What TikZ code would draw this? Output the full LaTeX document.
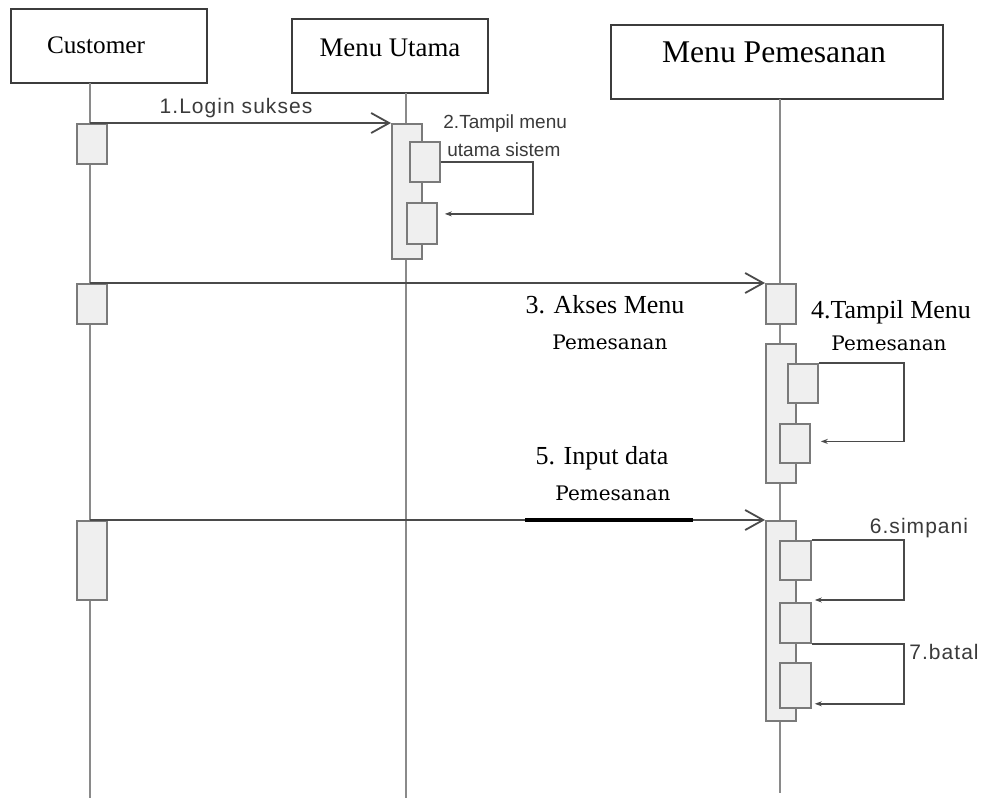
\documentclass[tikz,border=0pt]{standalone}
\usepackage{fontspec}
\setmainfont{Liberation Serif}
\newfontfamily\msgsans{Liberation Sans}
\newfontfamily\widesans[LetterSpace=5]{Liberation Sans}
\newfontfamily\thinserif{DejaVu Serif}
\usetikzlibrary{arrows.meta,positioning}
\definecolor{boxline}{HTML}{3C3C3C}
\definecolor{lifeline}{HTML}{8A8A8A}
\definecolor{actline}{HTML}{7A7A7A}
\definecolor{actfill}{HTML}{EFEFEF}
\definecolor{msgline}{HTML}{4A4A4A}
\definecolor{msgtext}{HTML}{3A3A3A}
\tikzset {
  >=Stealth,
  objbox/.style={draw=boxline,line width=1.3pt,fill=white,inner sep=0pt},
  life/.style={draw=lifeline,line width=0.9pt},
  act/.style={draw=actline,line width=0.9pt,fill=actfill,anchor=north west,inner sep=0pt},
  msg/.style={draw=msgline,line width=1pt,-{Straight Barb[length=9pt,width=10pt,line width=0.9pt]}},
  selfmsg/.style={draw=msgline,line width=0.9pt,-{Stealth[length=3.5pt,width=2.5pt]}},
  sanslabel/.style={text=msgtext,font=\msgsans\fontsize{9.5}{11}\selectfont,inner sep=0pt},
  widelabel/.style={text=msgtext,font=\widesans\fontsize{10.5}{12}\selectfont,inner sep=0pt},
  seriflabel/.style={font=\fontsize{13}{15}\selectfont,inner sep=0pt},
  thinlabel/.style={font=\thinserif\fontsize{10}{12}\selectfont,inner sep=0pt},
}

\begin{document}
\begin{tikzpicture}[x=0.5pt,y=-0.5pt]
  \useasboundingbox (0,0) rectangle (986,798);

  % objects
  \node[objbox,minimum width=98pt,minimum height=37pt] (cust) at (109,46) {};
  \node[objbox,minimum width=98pt,minimum height=37pt] (utama) at (390,56) {};
  \node[objbox,minimum width=166pt,minimum height=37pt] (pesan) at (777,62) {};
  \node[font=\fontsize{12.6}{14}\selectfont] at (96,45) {Customer};
  \node[font=\fontsize{13.4}{15}\selectfont] at (390,48) {Menu Utama};
  \node[font=\fontsize{15.8}{18}\selectfont] at (774,52) {Menu Pemesanan};

  % lifelines
  \coordinate (custtop) at (90,83);   \coordinate (custbot) at (90,798);
  \coordinate (utamatop) at (406,93); \coordinate (utamabot) at (406,798);
  \coordinate (pesantop) at (780,99); \coordinate (pesanbot) at (780,793);
  \draw[life] (custtop) -- (custbot);
  \draw[life] (utamatop) -- (utamabot);
  \draw[life] (pesantop) -- (pesanbot);

  % activations
  \node[act,minimum width=15pt,minimum height=20pt] (ca1) at (76,123) {};
  \node[act,minimum width=15pt,minimum height=20pt] (ca2) at (76,283) {};
  \node[act,minimum width=15pt,minimum height=39.5pt] (ca3) at (76,520) {};

  \node[act,minimum width=15pt,minimum height=67.5pt] (ua) at (391,123) {};
  \node[act,minimum width=15pt,minimum height=20pt] (ub1) at (409,141) {};
  \node[act,minimum width=15pt,minimum height=20.5pt] (ub2) at (406,202) {};

  \node[act,minimum width=15pt,minimum height=20pt] (pa1) at (765,283) {};
  \node[act,minimum width=15pt,minimum height=69.5pt] (pa2) at (765,343) {};
  \node[act,minimum width=15pt,minimum height=19.5pt] (pb1) at (787,363) {};
  \node[act,minimum width=15pt,minimum height=19.5pt] (pb2) at (779,423) {};
  \node[act,minimum width=15pt,minimum height=100pt] (pa3) at (765,520) {};
  \node[act,minimum width=15.5pt,minimum height=19.5pt] (pc1) at (779,540) {};
  \node[act,minimum width=15.5pt,minimum height=20pt] (pc2) at (779,602) {};
  \node[act,minimum width=15.5pt,minimum height=22.5pt] (pc3) at (779,662) {};

  % messages
  \coordinate (m1) at (90,123);
  \coordinate (m3) at (90,283);
  \coordinate (m5) at (90,520);
  \draw[msg] (m1) -- (ua.north west);
  \draw[msg] (m3) -- (pa1.north west);
  \draw[msg] (m5) -- (pa3.north west);
  \draw[black,line width=1.6pt] (525,520) -- (693,520);

  % self messages
  \draw[selfmsg] (ub1.east) -- ++(92,0) |- ([xshift=3.5pt,yshift=4.75pt]ub2.east);
  \draw[selfmsg] (pb1.north east) -- ++(85,0) |- ([xshift=5pt,yshift=1pt]pb2.east);
  \draw[selfmsg] (pc1.north east) -- ++(92,0) |- ([xshift=1.5pt,yshift=1pt]pc2.north east);
  \draw[selfmsg] (pc2.south east) -- ++(92,0) |- ([xshift=1.5pt,yshift=2.5pt]pc3.south east);

  % labels
  \node[widelabel] (l1) at (236,108) {1.Login sukses};
  \node[sanslabel,anchor=west] (l2a) at (443,124) {2.Tampil menu};
  \node[sanslabel,anchor=west] (l2b) at (447,150) {utama sistem};
  \node[seriflabel] (l3a) at (605,305) {3. Akses Menu};
  \node[thinlabel] (l3b) at (610,342) {Pemesanan};
  \node[seriflabel] (l4a) at (891,312) {4.Tampil Menu};
  \node[thinlabel] (l4b) at (889,343) {Pemesanan};
  \node[seriflabel] (l5a) at (602,458) {5. Input data};
  \node[thinlabel] (l5b) at (613,493) {Pemesanan};
  \node[widelabel] (l6) at (919,528) {6.simpani};
  \node[widelabel] (l7) at (944,652) {7.batal};
\end{tikzpicture}
\end{document}
